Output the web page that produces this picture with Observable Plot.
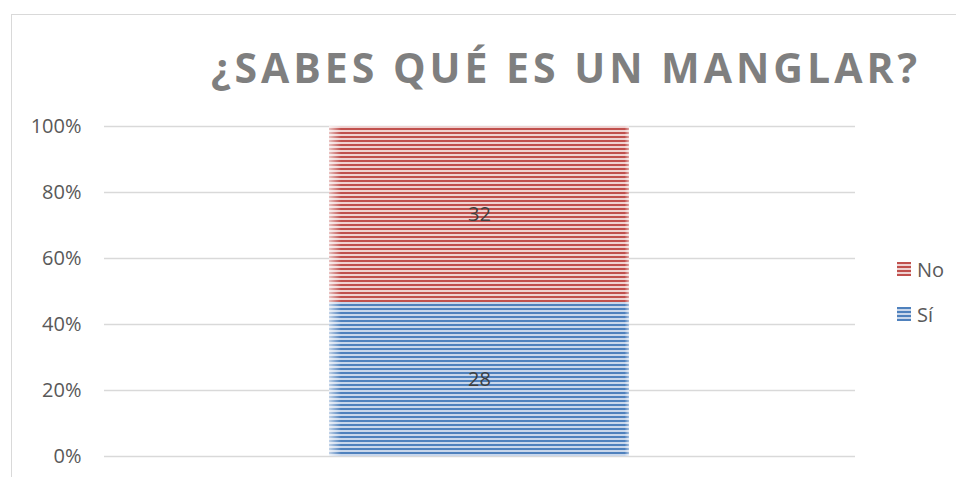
<!DOCTYPE html>
<html>
<head>
<meta charset="utf-8">
<script src="https://cdn.jsdelivr.net/npm/d3@7"></script>
<script src="https://cdn.jsdelivr.net/npm/@observablehq/plot@0.6"></script>
<style>
  body { margin: 0; background: #ffffff; }
  #wrap { position: relative; width: 956px; height: 477px; overflow: hidden; font-family: "Open Sans", sans-serif; background: #fff; }
  #frame { position: absolute; left: 10.5px; top: 14px; width: 2000px; height: 2000px; border-left: 1.5px solid #d9d9d9; border-top: 1.5px solid #d9d9d9; box-sizing: border-box; }
  #chart { position: absolute; left: 0; top: 0; }
  #title { position: absolute; left: 0; top: 0; }
  .leg { position: absolute; left: 897px; display: flex; align-items: center; font-size: 20px; color: #595959; }
  .leg svg { margin-right: 6px; }
</style>
</head>
<body>
<div id="wrap">
  <div id="frame"></div>
  <div id="chart"></div>
  <svg id="title" width="956" height="120"></svg>
  <div id="legend"></div>
</div>
<script>
// ---- data ----
const titleText = "¿SABES QUÉ ES UN MANGLAR?";
const groups = ["Total"];
const answers = ["Sí", "No"];
const counts = [28, 32];
const yTicks = [0, 20, 40, 60, 80, 100];
const legendOrder = ["No", "Sí"];

const rows = answers.map((a, i) => ({group: groups[0], answer: a, n: counts[i]}));
const tickFractions = yTicks.map(t => t / 100);
const patternIds = {"Sí": "pat-si", "No": "pat-no"};
const patternColors = {"Sí": ["#4f81bd", "#c9d7eb"], "No": ["#c0504d", "#efd2d1"]};

const chart = Plot.plot({
  width: 956,
  height: 477,
  marginTop: 126,
  marginBottom: 21,
  marginLeft: 104,
  marginRight: 101,
  style: {fontFamily: "Open Sans", fontSize: "20px", background: "transparent", overflow: "visible"},
  x: {domain: groups, paddingInner: 0.6, paddingOuter: 0.3, axis: null},
  y: {domain: [0, 1]},
  color: {domain: answers, range: answers.map(a => `url(#${patternIds[a]})`)},
  marks: [
    Plot.gridY(tickFractions, {stroke: "#d9d9d9", strokeOpacity: 1, strokeWidth: 1.5}),
    Plot.axisY(tickFractions, {tickSize: 0, tickPadding: 23, tickFormat: d => Math.round(d * 100) + "%", fill: "#595959", fontSize: 20, label: null}),
    Plot.barY(rows, Plot.stackY({offset: "normalize"}, {x: "group", y: "n", z: "answer", fill: "answer"})),
    Plot.barY(rows, Plot.stackY({offset: "normalize"}, {x: "group", y: "n", z: "answer", fill: "url(#edge)"})),
    Plot.text(rows, Plot.stackY({offset: "normalize"}, {x: "group", y: "n", z: "answer", text: d => String(d.n), fill: "#404040", fontSize: 20}))
  ]
});

// pattern defs
const ns = "http://www.w3.org/2000/svg";
const defs = document.createElementNS(ns, "defs");
for (const a of answers) {
  const p = document.createElementNS(ns, "pattern");
  p.setAttribute("id", patternIds[a]);
  p.setAttribute("patternUnits", "userSpaceOnUse");
  p.setAttribute("width", "4");
  p.setAttribute("height", "4");
  const r1 = document.createElementNS(ns, "rect");
  r1.setAttribute("width", "4"); r1.setAttribute("height", "4"); r1.setAttribute("fill", patternColors[a][1]);
  const r2 = document.createElementNS(ns, "rect");
  r2.setAttribute("width", "4"); r2.setAttribute("height", "2"); r2.setAttribute("fill", patternColors[a][0]);
  p.appendChild(r1); p.appendChild(r2);
  defs.appendChild(p);
}
const g = document.createElementNS(ns, "linearGradient");
g.setAttribute("id", "edge");
g.setAttribute("x1", "0"); g.setAttribute("x2", "1"); g.setAttribute("y1", "0"); g.setAttribute("y2", "0");
[[0, 0.65], [0.04, 0], [0.985, 0], [1, 0.5]].forEach(([o, op]) => {
  const s = document.createElementNS(ns, "stop");
  s.setAttribute("offset", o); s.setAttribute("stop-color", "#ffffff"); s.setAttribute("stop-opacity", op);
  g.appendChild(s);
});
defs.appendChild(g);
chart.insertBefore(defs, chart.firstChild);
document.getElementById("chart").appendChild(chart);

// title
d3.select("#title").append("text")
  .attr("x", 564).attr("y", 83)
  .attr("text-anchor", "middle")
  .attr("textLength", 706).attr("lengthAdjust", "spacing")
  .style("font-family", "'Open Sans', sans-serif")
  .style("font-weight", 700)
  .style("font-size", "41px")
  .style("fill", "#7f7f7f")
  .text(titleText);

// legend
const legTops = {"No": 262, "Sí": 307};
const leg = d3.select("#legend");
legendOrder.forEach(a => {
  const item = leg.append("div").attr("class", "leg").style("top", (legTops[a] - 4) + "px").style("height", "22px");
  item.append("svg").attr("width", 14).attr("height", 14)
    .append("rect").attr("width", 14).attr("height", 14).attr("fill", `url(#${patternIds[a]})`);
  item.append("span").text(a);
});
</script>
</body>
</html>
